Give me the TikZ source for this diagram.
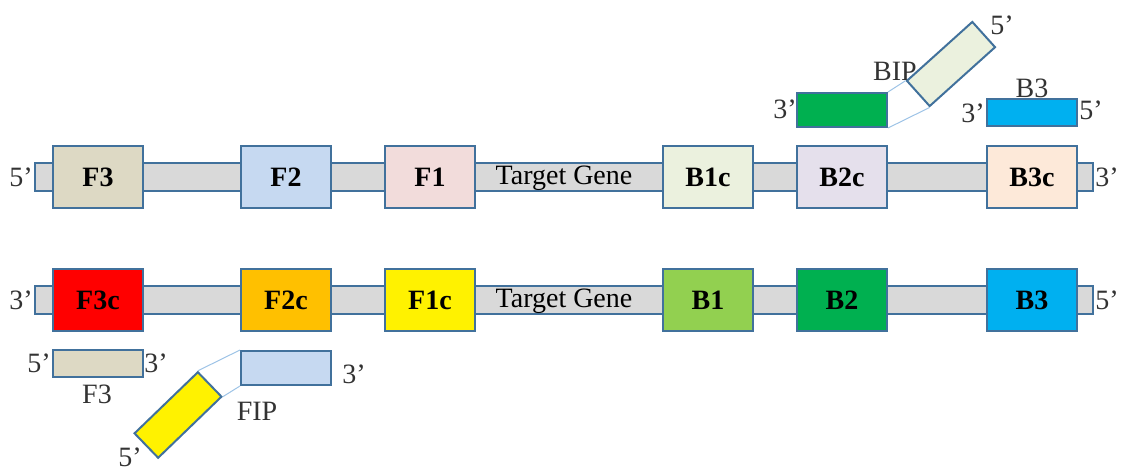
\documentclass[tikz,border=0pt]{standalone}
\usepackage{fontspec}
\setmainfont{Liberation Serif}
\usepackage{tikz}
\usetikzlibrary{positioning}
\usepackage{xcolor}
\definecolor{edge}{RGB}{65,113,156}
\definecolor{bargray}{RGB}{217,217,217}
\definecolor{linkblue}{RGB}{157,195,230}
\definecolor{tanF}{RGB}{221,217,196}
\definecolor{blueF}{RGB}{198,217,241}
\definecolor{pinkF}{RGB}{242,220,219}
\definecolor{greenB}{RGB}{235,241,222}
\definecolor{lilacB}{RGB}{229,224,236}
\definecolor{peachB}{RGB}{253,233,217}
\definecolor{orangeF}{RGB}{255,192,0}
\definecolor{limeB}{RGB}{146,208,80}
\definecolor{darkgreenB}{RGB}{0,176,80}
\definecolor{skyB}{RGB}{0,176,240}

\begin{document}
\begin{tikzpicture}[x=0.5pt, y=-0.5pt, font=\fontsize{14}{16}\selectfont,
  dnabar/.style={draw=edge, fill=bargray, line width=0.8pt, minimum width=529pt, minimum height=14pt, inner sep=0pt},
  seg/.style={draw=edge, line width=1pt, minimum width=45pt, minimum height=31pt, inner sep=0pt, font=\fontsize{14}{16}\selectfont\bfseries},
  primer/.style={draw=edge, line width=1pt, minimum width=45pt, minimum height=13.5pt, inner sep=0pt},
  loopprimer/.style={draw=edge, line width=1pt, minimum width=44pt, minimum height=17pt, inner sep=0pt},
  prime/.style={text=black!80, inner sep=0pt},
  linkline/.style={draw=linkblue, line width=0.5pt}]
  \useasboundingbox (0,0) rectangle (1126,470);

  % Upper strand
  \node[dnabar] (topbar) at (564,177) {};
  \node[seg, fill=tanF]   (F3)  at (98,177)   {F3};
  \node[seg, fill=blueF]  (F2)  at (286,177)  {F2};
  \node[seg, fill=pinkF]  (F1)  at (430,177)  {F1};
  \node[inner sep=0pt]    (tg1) at (564,178)  {Target Gene};
  \node[seg, fill=greenB] (B1c) at (708,177)  {B1c};
  \node[seg, fill=lilacB] (B2c) at (842,177)  {B2c};
  \node[seg, fill=peachB] (B3c) at (1032,177) {B3c};
  \node[prime] (top5) at (21,177)   {5’};
  \node[prime] (top3) at (1107,177) {3’};

  % Lower strand
  \node[dnabar] (botbar) at (564,300) {};
  \node[seg, fill=red]        (F3c) at (98,300)   {F3c};
  \node[seg, fill=orangeF]    (F2c) at (286,300)  {F2c};
  \node[seg, fill=yellow]     (F1c) at (430,300)  {F1c};
  \node[inner sep=0pt]        (tg2) at (564,301)  {Target Gene};
  \node[seg, fill=limeB]      (B1)  at (708,300)  {B1};
  \node[seg, fill=darkgreenB] (B2)  at (842,300)  {B2};
  \node[seg, fill=skyB]       (B3)  at (1032,300) {B3};
  \node[prime] (bot3) at (21,300)   {3’};
  \node[prime] (bot5) at (1107,300) {5’};

  % F3 primer
  \node[primer, fill=tanF] (pF3) at (98,364) {};
  \node[prime] (pF3a) at (39,363)  {5’};
  \node[prime] (pF3b) at (156,363) {3’};
  \node[prime] (pF3l) at (97,394)  {F3};

  % FIP
  \node[loopprimer, minimum width=45pt, fill=blueF] (fipB) at (286,368) {};
  \node[loopprimer, fill=yellow, rotate=44] (fipY) at (178,415) {};
  \draw[linkline] (fipY.north east) -- (fipB.north west);
  \draw[linkline] (fipY.south east) -- (fipB.south west);
  \node[prime] (fip3) at (354,374) {3’};
  \node[prime] (fipl) at (257,411) {FIP};
  \node[prime] (fip5) at (130,457) {5’};

  % BIP
  \node[prime] (bipl) at (895,71) {BIP};
  \node[loopprimer, minimum width=45pt, fill=darkgreenB] (bipG) at (842,110) {};
  \node[loopprimer, fill=greenB, rotate=42] (bipY) at (951,64) {};
  \draw[linkline] (bipG.north east) -- (bipY.north west);
  \draw[linkline] (bipG.south east) -- (bipY.south west);
  \node[prime] (bip3) at (785,109) {3’};
  \node[prime] (bip5) at (1002,25) {5’};

  % B3 primer
  \node[primer, fill=skyB] (pB3) at (1032,113) {};
  \node[prime] (pB3a) at (973,113)  {3’};
  \node[prime] (pB3b) at (1091,110) {5’};
  \node[prime] (pB3l) at (1032,88)  {B3};
\end{tikzpicture}
\end{document}
